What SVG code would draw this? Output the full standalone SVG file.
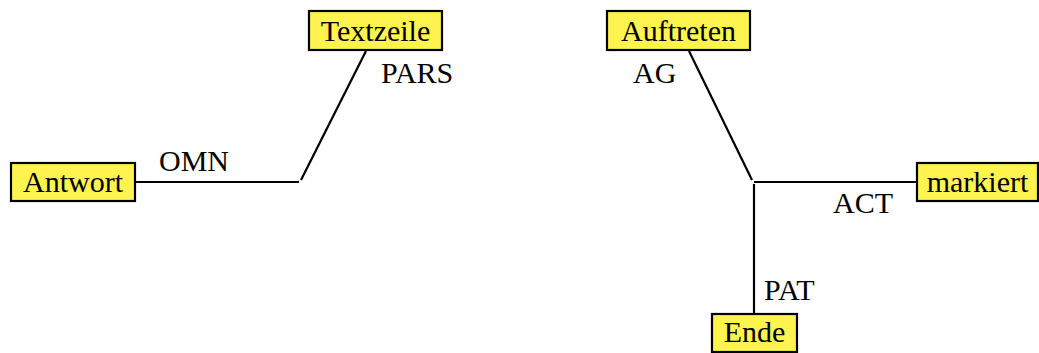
<svg xmlns="http://www.w3.org/2000/svg" width="1039" height="353" viewBox="0 0 1039 353">
<style>
.box{fill:#fff44f;stroke:#000;stroke-width:2.2}
.t{font-family:"Liberation Serif",serif;font-size:30px;fill:#000}
.c{text-anchor:middle}
.e{stroke:#000;stroke-width:2.2;fill:none}
</style>
<rect width="1039" height="353" fill="#fff"/>
<g id="connectors">
<line class="e" x1="136" y1="182" x2="299" y2="182"/>
<line class="e" x1="301" y1="180" x2="366" y2="51"/>
<line class="e" x1="689" y1="51" x2="752" y2="180"/>
<line class="e" x1="754" y1="182" x2="916" y2="182"/>
<line class="e" x1="754" y1="184" x2="754" y2="313"/>
<text class="t" x="159" y="171">OMN</text>
<text class="t" x="381" y="83">PARS</text>
<text class="t" x="633" y="83">AG</text>
<text class="t" x="833" y="213">ACT</text>
<text class="t" x="764" y="300">PAT</text>
</g>
<g id="Textzeile"><rect class="box" x="309" y="11" width="133" height="39"/><text class="t c" x="375.5" y="41">Textzeile</text></g>
<g id="Antwort"><rect class="box" x="11" y="163" width="124" height="38"/><text class="t c" x="73" y="192">Antwort</text></g>
<g id="Auftreten"><rect class="box" x="607" y="11" width="143" height="39"/><text class="t c" x="678.5" y="41">Auftreten</text></g>
<g id="markiert"><rect class="box" x="917" y="163" width="121" height="38"/><text class="t c" x="977.5" y="192">markiert</text></g>
<g id="Ende"><rect class="box" x="712" y="314" width="85" height="38"/><text class="t c" x="754.5" y="342">Ende</text></g>
</svg>
